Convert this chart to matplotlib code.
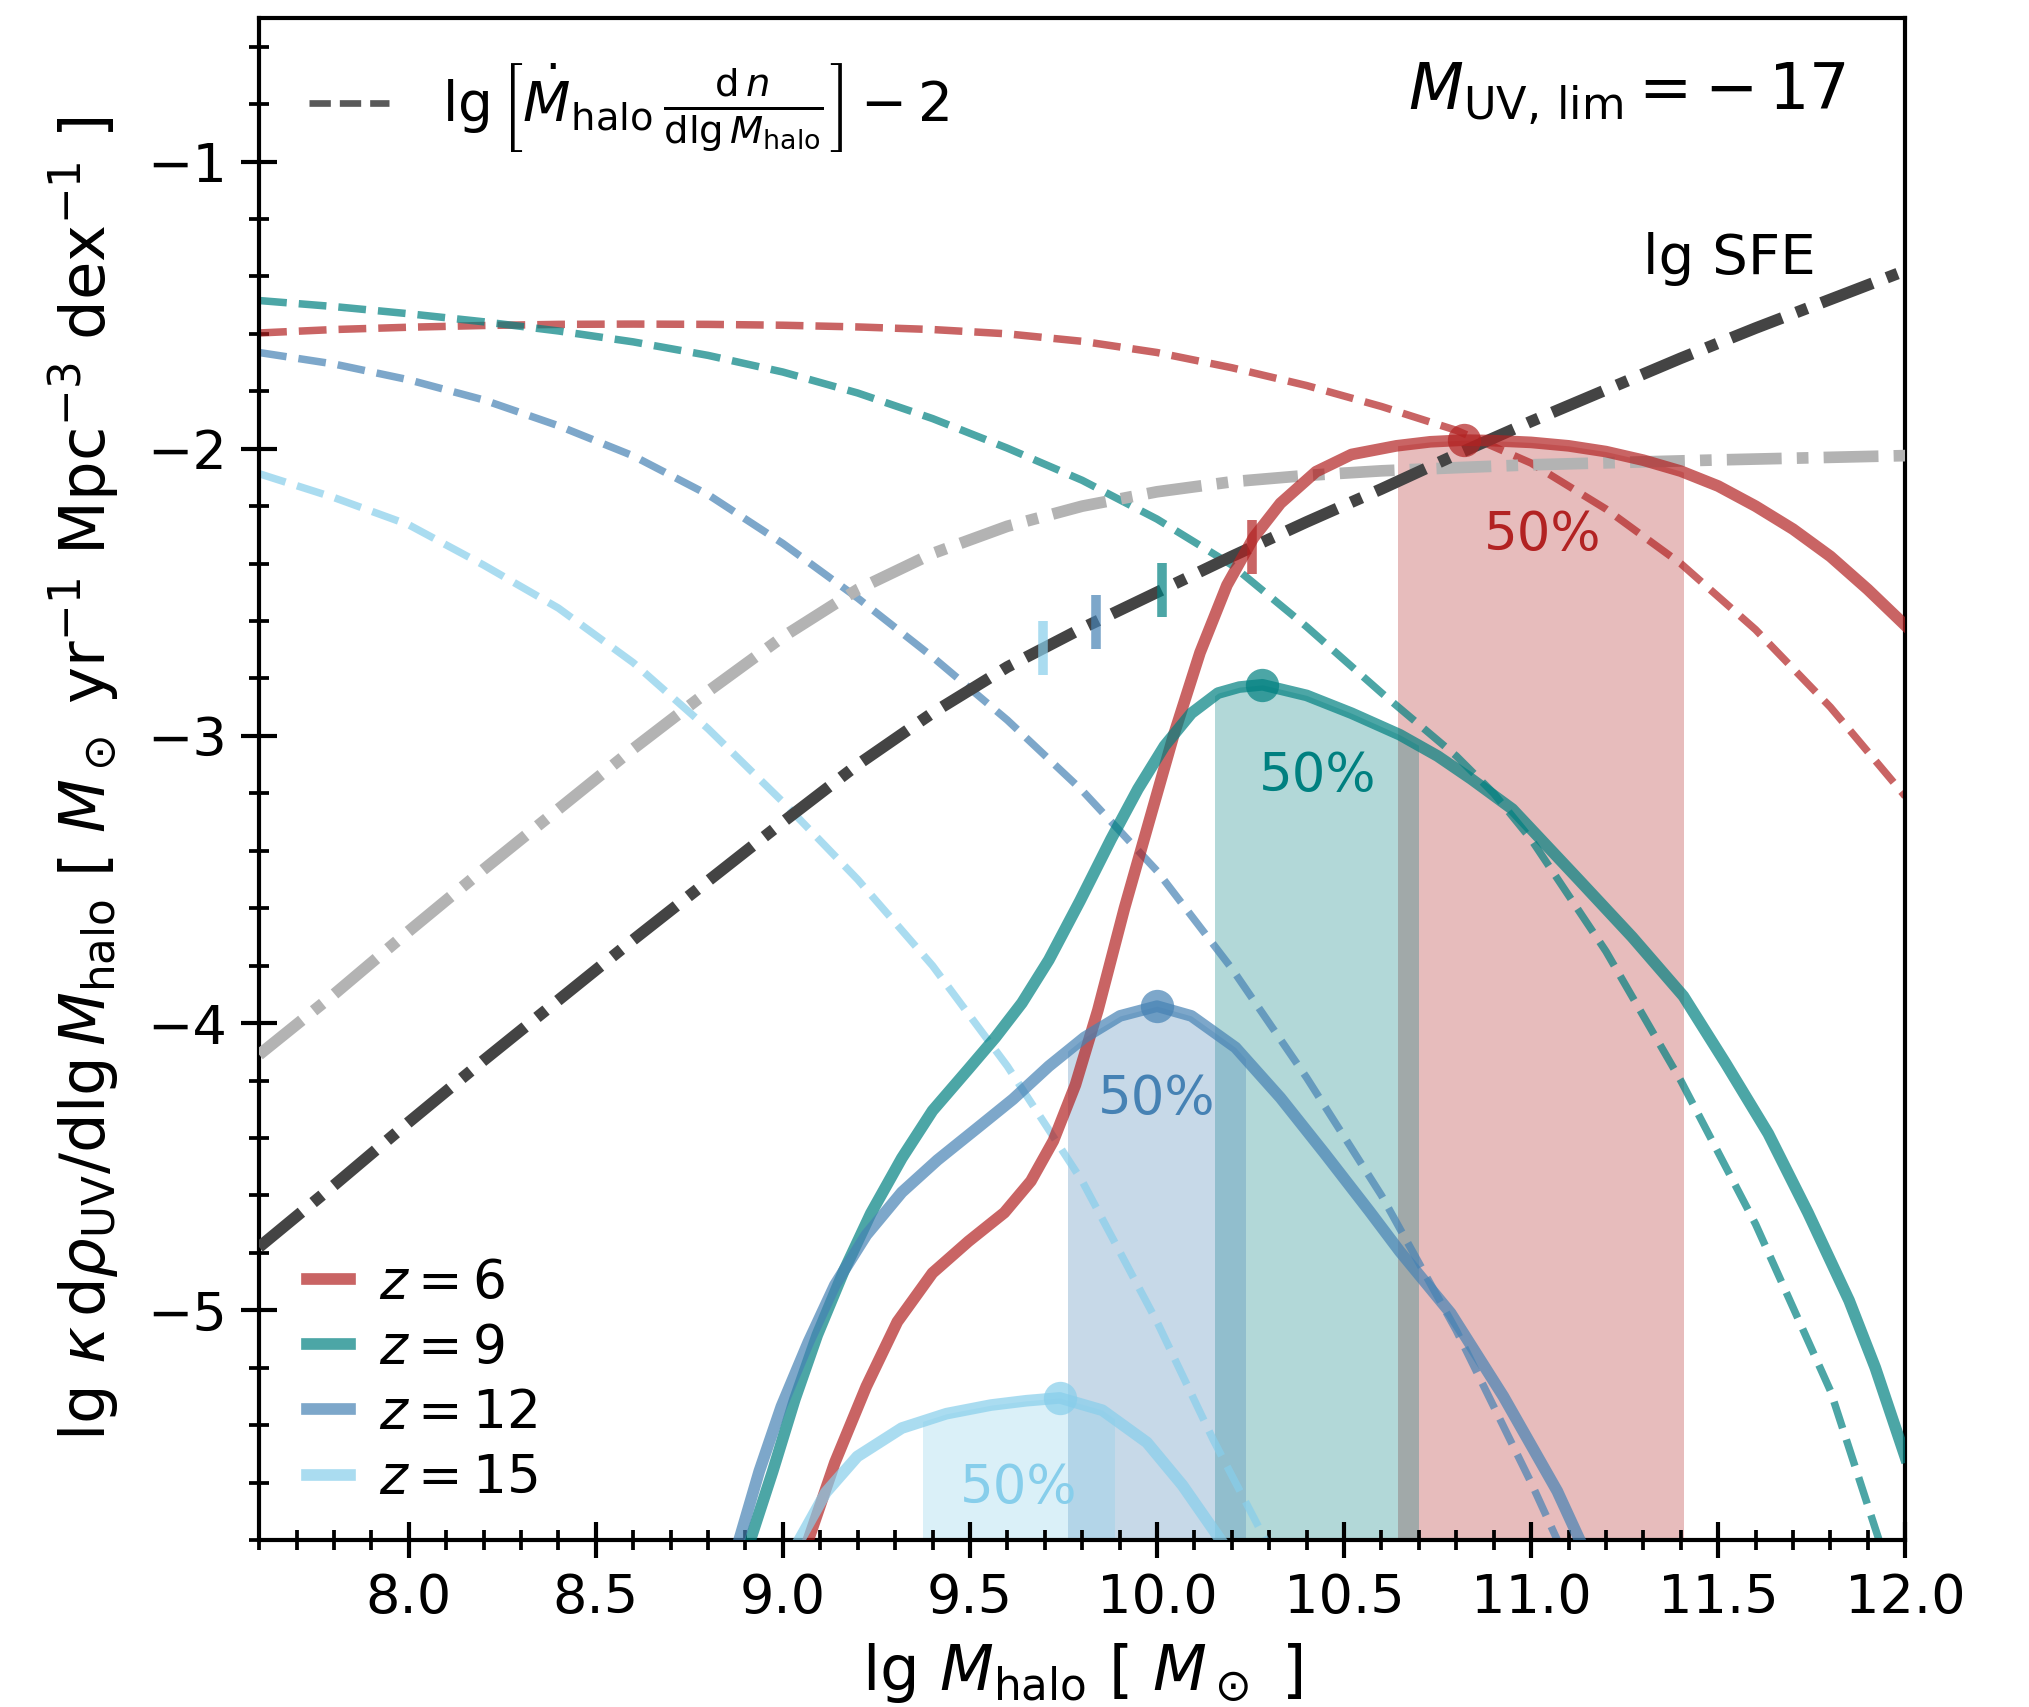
import numpy as np
import matplotlib
matplotlib.use("Agg")
import matplotlib.pyplot as plt
from matplotlib.patches import Rectangle

# --- data ---
# dashed: lg[Mdot dn/dlgM] - 2 for each redshift
x_d6 = [7.6, 7.8, 8.0, 8.2, 8.4, 8.6, 8.8, 9.0, 9.2, 9.4, 9.6, 9.8, 10.0, 10.2, 10.4, 10.6, 10.8, 11.0, 11.2, 11.4, 11.6, 11.8, 12.0]
y_d6 = [-1.597, -1.585, -1.577, -1.571, -1.567, -1.566, -1.567, -1.570, -1.576, -1.585, -1.600, -1.626, -1.665, -1.718,
        -1.780, -1.853, -1.936, -2.05, -2.21, -2.40, -2.63, -2.90, -3.21]
x_d9 = [7.6, 7.8, 8.0, 8.2, 8.4, 8.6, 8.8, 9.0, 9.2, 9.4, 9.6, 9.8, 10.0, 10.2, 10.4, 10.6, 10.8, 10.9, 11.0, 11.2, 11.4,
        11.6, 11.8, 11.93]
y_d9 = [-1.484, -1.505, -1.530, -1.558, -1.590, -1.628, -1.675, -1.733, -1.806, -1.895, -1.998, -2.110, -2.245, -2.405,
        -2.620, -2.850, -3.07, -3.20, -3.36, -3.75, -4.20, -4.70, -5.28, -5.80]
x_d12 = [7.6, 7.8, 8.0, 8.2, 8.4, 8.6, 8.8, 9.0, 9.2, 9.4, 9.6, 9.8, 10.0, 10.2, 10.4, 10.6, 10.8, 11.0, 11.07]
y_d12 = [-1.665, -1.705, -1.760, -1.830, -1.920, -2.025, -2.160, -2.330, -2.520, -2.725, -2.945, -3.190, -3.47, -3.81,
         -4.19, -4.60, -5.07, -5.60, -5.80]
x_d15 = [7.6, 7.8, 8.0, 8.2, 8.4, 8.6, 8.8, 9.0, 9.2, 9.4, 9.6, 9.8, 10.0, 10.15, 10.29]
y_d15 = [-2.087, -2.170, -2.265, -2.405, -2.555, -2.745, -2.975, -3.23, -3.50, -3.80, -4.15, -4.55, -5.04, -5.45, -5.80]

# dash-dot: lg SFE (dark) and the grey companion curve
x_sfe = [7.6, 7.8, 8.0, 8.2, 8.4, 8.6, 8.8, 9.0, 9.2, 9.4, 9.6, 9.8, 10.0, 10.2, 10.4, 10.6, 10.8, 11.0, 11.2, 11.4, 11.6,
         11.8, 12.0]
y_sfe = [-4.78, -4.565, -4.345, -4.13, -3.92, -3.71, -3.505, -3.30, -3.10, -2.92, -2.76, -2.625, -2.50, -2.375, -2.255,
         -2.14, -2.02, -1.905, -1.795, -1.685, -1.58, -1.48, -1.38]
x_grey = [7.6, 7.8, 8.0, 8.2, 8.4, 8.6, 8.8, 9.0, 9.2, 9.4, 9.6, 9.8, 10.0, 10.2, 10.4, 10.6, 10.8, 11.0, 11.5, 12.0]
y_grey = [-4.11, -3.90, -3.68, -3.465, -3.255, -3.045, -2.845, -2.655, -2.49, -2.365, -2.27, -2.20, -2.15, -2.115, -2.093,
          -2.077, -2.066, -2.056, -2.039, -2.024]

# solid: lg kappa drho_UV/dlgM_halo
x_z6 = [9.068, 9.139, 9.223, 9.306, 9.40, 9.496, 9.592, 9.663, 9.723, 9.782, 9.842, 9.913, 9.985, 10.044, 10.115, 10.187,
        10.258, 10.33, 10.425, 10.52, 10.64, 10.73, 10.82, 10.90, 11.00, 11.10, 11.20, 11.30, 11.40, 11.50, 11.60, 11.70,
        11.80, 11.90, 12.00]
y_z6 = [-5.80, -5.53, -5.265, -5.04, -4.87, -4.76, -4.66, -4.55, -4.41, -4.215, -3.955, -3.60, -3.27, -3.00,
        -2.71, -2.475, -2.31, -2.19, -2.08, -2.02, -1.99, -1.976, -1.970, -1.972, -1.978, -1.990, -2.010, -2.040,
        -2.078, -2.13, -2.200, -2.28, -2.375, -2.49, -2.615]
x_z9 = [8.913, 8.973, 9.032, 9.092, 9.163, 9.235, 9.318, 9.40, 9.496, 9.568, 9.639, 9.711, 9.794, 9.877, 9.949, 10.02,
        10.092, 10.163, 10.22, 10.282, 10.40, 10.52, 10.649, 10.75, 10.84, 10.95, 11.124, 11.27, 11.407, 11.52, 11.634,
        11.74, 11.85, 11.92, 12.00]
y_z9 = [-5.80, -5.56, -5.31, -5.086, -4.863, -4.663, -4.47, -4.305, -4.16, -4.05, -3.93, -3.78, -3.575, -3.36,
        -3.185, -3.035, -2.921, -2.851, -2.83, -2.822, -2.859, -2.921, -2.996, -3.07, -3.15, -3.255, -3.496, -3.70,
        -3.906, -4.14, -4.385, -4.66, -4.966, -5.20, -5.51]
x_z12 = [8.883, 8.937, 8.996, 9.068, 9.139, 9.223, 9.318, 9.413, 9.52, 9.615, 9.711, 9.806, 9.901, 10.0, 10.092, 10.21,
         10.33, 10.449, 10.568, 10.649, 10.785, 10.926, 11.07, 11.13]
y_z12 = [-5.80, -5.56, -5.335, -5.111, -4.912, -4.738, -4.589, -4.477, -4.365, -4.265, -4.15, -4.05, -3.975, -3.941,
         -3.975, -4.085, -4.26, -4.455, -4.655, -4.795, -5.01, -5.30, -5.63, -5.80]
x_z15 = [9.044, 9.115, 9.199, 9.318, 9.437, 9.556, 9.65, 9.74, 9.854, 9.973, 10.068, 10.17]
y_z15 = [-5.80, -5.634, -5.509, -5.41, -5.36, -5.33, -5.315, -5.305, -5.348, -5.46, -5.609, -5.80]

# 50% ranges and markers on the SFE curve
band_lo = [10.644, 10.156, 9.763, 9.374]
band_hi = [11.407, 10.697, 10.236, 9.884]
sfe_mark_x = [10.253, 10.014, 9.837, 9.696]
pct_x = [11.03, 10.43, 10.0, 9.63]
pct_y = [-2.30, -3.14, -4.265, -5.62]

z_labels = ['$z=6$', '$z=9$', '$z=12$', '$z=15$']
colors = ['firebrick', 'teal', 'steelblue', 'skyblue']

solid_x = [x_z6, x_z9, x_z12, x_z15]
solid_y = [y_z6, y_z9, y_z12, y_z15]
dash_x = [x_d6, x_d9, x_d12, x_d15]
dash_y = [y_d6, y_d9, y_d12, y_d15]

plt.rcParams['font.family'] = 'DejaVu Sans'
plt.rcParams['mathtext.fontset'] = 'dejavusans'

fig = plt.figure(figsize=(2029 / 300, 1707 / 300), dpi=300)
ax = fig.add_axes([0.1277, 0.0978, 0.8113, 0.8917])

ymin, ymax = -5.8, -0.5

for i in range(4):
    xs = np.array(solid_x[i])
    ys = np.array(solid_y[i])
    c = colors[i]
    band = ax.fill_between(xs, ys, ymin - 1, color=c, alpha=0.3, lw=0, zorder=1)
    band.set_clip_path(Rectangle((band_lo[i], ymin), band_hi[i] - band_lo[i], ymax - ymin, transform=ax.transData))
    ax.plot(dash_x[i], dash_y[i], '--', color=c, alpha=0.7, lw=1.8, zorder=2)

ax.plot(x_grey, y_grey, color='#b3b3b3', lw=2.8, ls=(0, (4.7, 1.3, 1, 1.3)), zorder=3)
ax.plot(x_sfe, y_sfe, color='#444444', lw=2.8, ls=(0, (4.7, 1.3, 1, 1.3)), zorder=3)

handles = []
for i in range(4):
    xs = np.array(solid_x[i])
    ys = np.array(solid_y[i])
    c = colors[i]
    h, = ax.plot(xs, ys, '-', color=c, alpha=0.7, lw=2.8, zorder=4, label=z_labels[i])
    handles.append(h)
    k = np.argmax(ys)
    ax.plot(xs[k], ys[k], 'o', color=c, alpha=0.7, ms=8, mew=0, zorder=5)
    ax.plot(sfe_mark_x[i], np.interp(sfe_mark_x[i], x_sfe, y_sfe), '|', color=c, alpha=0.7,
            ms=13, mew=2.3, zorder=5)
    ax.text(pct_x[i], pct_y[i], '50%', color=c, fontsize=12.7, ha='center', va='center', zorder=6)

leg2 = ax.legend(handles=handles, loc='lower left', bbox_to_anchor=(0.0, -0.008), frameon=False,
                 fontsize=12.8, handlelength=0.8, handletextpad=0.55, labelspacing=0.245)
ax.add_artist(leg2)

dash_handle, = ax.plot([], [], color='k', alpha=0.65, lw=1.6, ls=(0, (3.2, 1.35)))
ax.legend([dash_handle],
          [r'$\lg\left[\dot{M}_{\rm halo}\,\frac{{\rm d}\,n}{{\rm d}\lg M_{\rm halo}}\right]-2$'],
          loc='upper left', bbox_to_anchor=(0.0, 1.004), frameon=False, fontsize=13.2,
          handlelength=1.47, handletextpad=0.95)

ax.text(0.964, 0.94, r'$M_{\rm UV,\,lim} = -\,17$', transform=ax.transAxes, ha='right', va='baseline',
        fontsize=15.3)
ax.text(11.76, -1.34, 'lg SFE', ha='right', va='center', fontsize=13.5)

ax.set_xlim(7.6, 12.0)
ax.set_ylim(ymin, ymax)
ax.set_xticks([8.0, 8.5, 9.0, 9.5, 10.0, 10.5, 11.0, 11.5, 12.0])
ax.set_yticks([-1, -2, -3, -4, -5])
ax.set_xticks(np.arange(7.6, 12.01, 0.1), minor=True)
ax.set_yticks(np.arange(-5.8, -0.49, 0.2), minor=True)
ax.tick_params(which='major', direction='inout', length=8.5, width=1.0, labelsize=13)
ax.tick_params(which='minor', direction='inout', length=5, width=0.9)
for s in ax.spines.values():
    s.set_linewidth(1.0)

ax.set_xlabel(r'$\lg\,M_{\rm halo}$ [ $M_\odot$ ]', fontsize=15, labelpad=4)
ax.set_ylabel(r'$\lg\,\kappa\,{\rm d}\rho_{\rm UV}/{\rm d}\lg M_{\rm halo}$ [ $M_\odot$ yr$^{-1}$ Mpc$^{-3}$ dex$^{-1}$ ]',
              fontsize=15, labelpad=6)

fig.savefig('out.png', dpi=300)
